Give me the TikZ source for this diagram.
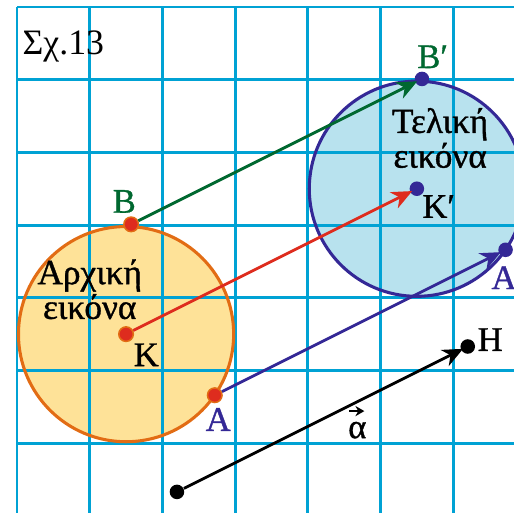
\documentclass[tikz,border=0pt]{standalone}
\usepackage{fontspec}
\setmainfont{Liberation Serif}[BoldFont=Liberation Serif, BoldFeatures={FakeBold=1.0}]
\usetikzlibrary{arrows.meta}
\definecolor{gridc}{RGB}{0,162,212}
\definecolor{orfill}{RGB}{254,226,152}
\definecolor{orline}{RGB}{226,108,20}
\definecolor{blfill}{RGB}{184,226,238}
\definecolor{blline}{RGB}{52,40,150}
\definecolor{grn}{RGB}{0,104,48}
\definecolor{rd}{RGB}{222,44,30}
\tikzset{
  gridline/.style={draw=gridc, line width=1.15pt},
  lbl/.style={inner sep=0pt, anchor=base west, font=\fontsize{13.5}{13.3}\selectfont\bfseries},
  txt/.style={inner sep=0pt, align=center, font=\fontsize{13.8}{13.6}\selectfont\bfseries},
  reddot/.style={circle, fill=rd, draw=orline, line width=0.6pt, inner sep=0pt, minimum size=0.2cm},
  bluedot/.style={circle, fill=blline, inner sep=0pt, minimum size=0.2cm},
  blackdot/.style={circle, fill=black, inner sep=0pt, minimum size=0.2cm},
  vec/.style={line width=1.1pt, -{Stealth[length=8pt, width=7pt, inset=2.5pt]}, shorten >=-1pt},
}
\begin{document}
\begin{tikzpicture}
\useasboundingbox (-0.234,0.096) rectangle (6.836,-6.96);
\fill[white] (-0.234,0.096) rectangle (6.836,-6.96);
\begin{scope}
\clip (-0.234,0.096) rectangle (6.836,-6.96);
% circle fills
\fill[orfill] (1.5,-4.5) circle (1.48);
\fill[blfill] (5.5,-2.5) circle (1.48);
% grid
\foreach \i in {0,...,6} \draw[gridline] (\i,0) -- (\i,-7.1);
\foreach \j in {0,...,6} \draw[gridline] (0,-\j) -- (7,-\j);
% circle outlines
\draw[orline, line width=1.2pt] (1.5,-4.5) circle (1.48);
\draw[blline, line width=1.2pt] (5.5,-2.5) circle (1.48);
% points
\node[reddot] (B) at (1.57,-2.99) {};
\node[reddot] (K) at (1.5,-4.5) {};
\node[reddot] (A) at (2.72,-5.34) {};
\node[bluedot] (B2) at (5.57,-0.99) {};
\node[bluedot] (K2) at (5.5,-2.5) {};
\node[bluedot] (A2) at (6.72,-3.34) {};
\node[blackdot] (S) at (2.2,-6.67) {};
\node[blackdot] (H) at (6.2,-4.67) {};
% arrows
\draw[vec, grn] (B) -- (B2);
\draw[vec, rd] (K) -- (K2);
\draw[vec, blline] (A) -- (A2);
\draw[vec, black] (S) -- (H);
% labels
\node[lbl, font=\fontsize{14}{14}\selectfont] (title) at (0.07,-0.66) {Σχ.13};
\node[lbl, text=grn] (lB) at (1.31,-2.83) {Β};
\node[lbl, text=grn] (lB2) at (5.5,-0.84) {Β′};
\node[lbl] (lK) at (1.6,-4.94) {Κ};
\node[lbl] (lK2) at (5.57,-2.90) {Κ′};
\node[lbl, text=blline] (lA) at (2.59,-5.83) {Α};
\node[lbl, text=blline] (lA2) at (6.52,-3.88) {Α′};
\node[lbl] (lH) at (6.33,-4.73) {Η};
\node[lbl] (lalpha) at (4.55,-5.93) {α};
\draw[line width=1pt, -{Stealth[length=3.5pt, width=4pt]}] ([xshift=0.5pt, yshift=4pt]lalpha.north west) -- ([xshift=-1pt, yshift=4pt]lalpha.north east);
\node[txt, anchor=base] (t1) at (1.0,-4.29) {Αρχική\\εικόνα};
\node[txt, anchor=base] (t2) at (5.82,-2.21) {Τελική\\εικόνα};
\end{scope}
\end{tikzpicture}
\end{document}
